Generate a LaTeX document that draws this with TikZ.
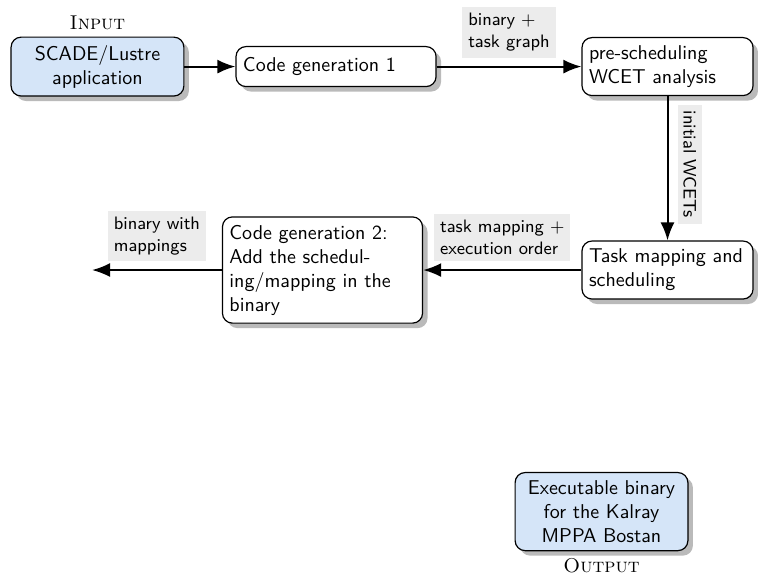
\documentclass[tikz,border=0pt]{standalone}
\usepackage{tikz}
\usetikzlibrary{arrows.meta,shadows}

\definecolor{iofill}{HTML}{D5E5F8}

\begin{document}
\begin{tikzpicture}[
    box/.style={draw,semithick,rounded corners=5pt,fill=white,
                drop shadow={shadow xshift=2.5pt,shadow yshift=-2.5pt,fill=black!27,opacity=1},
                inner xsep=3.5pt,inner ysep=4pt,minimum height=20pt,
                font=\sffamily,align=left},
    iobox/.style={box,fill=iofill,align=center,text width=2.79cm},
    tag/.style={fill=gray!15,font=\small\sffamily,align=left,inner sep=3pt},
    flow/.style={line width=1pt,-{Latex[length=9pt,width=7pt]}},
    io/.style={font=\rmfamily\scshape}
]
    \useasboundingbox (0,0) rectangle (13.32,-10.10);

    % Draw nodes
    \node[iobox] (src) at (1.713,-1.17) {SCADE/Lustre\\application};
    \node[box,text width=3.27cm] (gen1) at (5.905,-1.17) {Code generation 1};
    \node[box,text width=2.76cm] (wcet) at (11.730,-1.17) {pre-scheduling\\WCET analysis};
    \node[box,text width=2.76cm] (sched) at (11.730,-4.745) {Task mapping and\\scheduling};
    \node[box,text width=3.27cm] (gen2) at (5.667,-4.745)
        {Code generation 2:\\Add the schedul-\\ing/mapping in the\\binary};
    \node[iobox] (exe) at (10.570,-8.99) {Executable binary\\for the Kalray\\MPPA Bostan};
    \coordinate (out) at (1.617,-4.745);

    % Draw edges
    \draw[flow] (src) -- (gen1);
    \draw[flow] (gen1) -- node[tag,above=4pt] {binary $+$\\task graph} (wcet);
    \draw[flow] (wcet) -- node[tag,rotate=-90,anchor=south,yshift=4.5pt,xshift=-2pt] {initial WCETs} (sched);
    \draw[flow] (sched) -- node[tag,above=4pt] {task mapping $+$\\execution order} (gen2);
    \draw[flow] (gen2) -- node[tag,above=4pt] {binary with\\mappings} (out);

    % Labels
    \node[io,above] (inlbl) at (src.north) {Input};
    \node[io,below] (outlbl) at (exe.south) {Output};
\end{tikzpicture}
\end{document}
